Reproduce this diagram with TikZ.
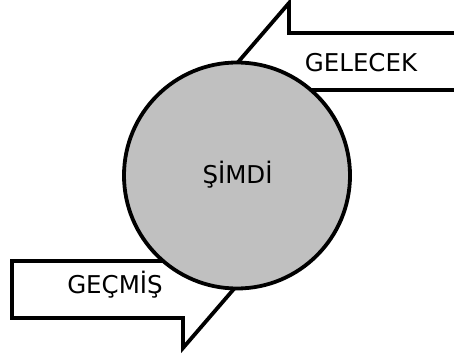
\documentclass[tikz,border=0pt]{standalone}
\usepackage{fontspec}
\setmainfont{DejaVu Sans}
\definecolor{nowgray}{HTML}{C0C0C0}
\tikzset{
  flag/.style={draw=black, fill=white, line width=3.8pt, line join=miter},
  now/.style={circle, draw=black, fill=nowgray, line width=3.8pt, minimum size=226pt, inner sep=0pt},
  lbl/.style={font=\fontsize{24.5}{26}\selectfont, anchor=base, inner sep=0pt}
}
\begin{document}
\begin{tikzpicture}[x=1pt,y=-1pt]
\useasboundingbox (0,0) rectangle (454,355);
% future arrow
\draw[flag] (470,33) -- (289,33) -- (289,3) -- (214,90) -- (470,90);
% past arrow
\draw[flag] (200,261) -- (12,261) -- (12,318) -- (183,318) -- (183,348) -- (258,261) -- cycle;
\node[now] (simdi) at (237,175.5) {};
\node[lbl] (gelecek) at (361,72) {GELECEK};
\node[lbl] (gecmis) at (115,293) {GEÇMİŞ};
\node[lbl] (simditxt) at (237.5,183) {ŞİMDİ};
\end{tikzpicture}
\end{document}
